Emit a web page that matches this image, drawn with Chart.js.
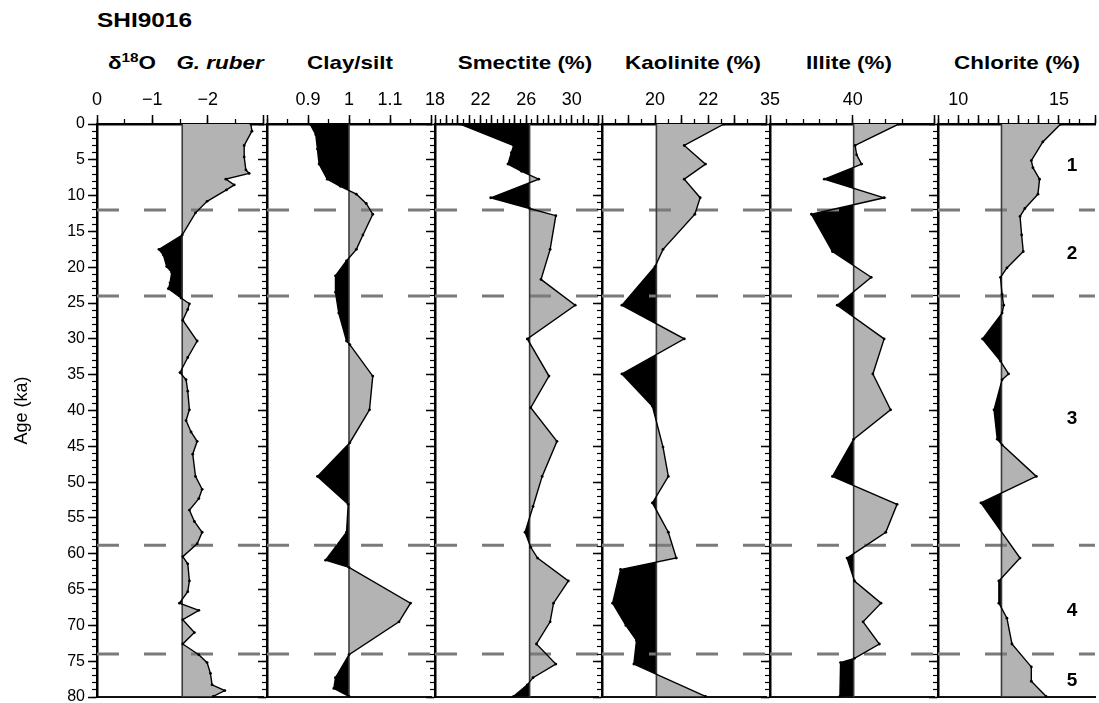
<!DOCTYPE html>
<html>
<head>
<meta charset="utf-8">
<script src="https://cdn.jsdelivr.net/npm/chart.js@4.4.1/dist/chart.umd.min.js"></script>
<style>
  body { margin: 0; background: #fff; }
  #wrap { position: relative; width: 1099px; height: 703px; overflow: hidden; font-family: "Liberation Sans", Arial, sans-serif; color: #000; }
  #wrap canvas { position: absolute; top: 0; }
  .t { position: absolute; top: 52px; font-weight: bold; font-size: 19px; line-height: 22px; white-space: nowrap; transform: translateX(-50%) scaleX(1.18); }
  .t sup { font-size: 13px; vertical-align: 7px; line-height: 0; }
  #core { position: absolute; left: 97px; top: 9px; font-weight: bold; font-size: 20px; line-height: 22px; transform-origin: left center; transform: scaleX(1.22); }
</style>
</head>
<body>
<div id="wrap">
  <div id="core">SHI9016</div>
  <div class="t" style="left:132px">&delta;<sup>18</sup>O</div>
  <div class="t" style="left:220px"><i>G. ruber</i></div>
  <div class="t" style="left:350px">Clay/silt</div>
  <div class="t" style="left:525px">Smectite (%)</div>
  <div class="t" style="left:693px">Kaolinite (%)</div>
  <div class="t" style="left:849px">Illite (%)</div>
  <div class="t" style="left:1017px">Chlorite (%)</div>
  <canvas id="c1"></canvas>
  <canvas id="c2"></canvas>
  <canvas id="c3"></canvas>
  <canvas id="c4"></canvas>
  <canvas id="c5"></canvas>
  <canvas id="c6"></canvas>
</div>
<script>
// ages (ka) and values
const d18oAge = [0, 1.0, 3.0, 4.6, 6.4, 6.9, 7.7, 8.5, 9.2, 10.8, 12.4, 15.5, 17.5, 18.3, 19.9, 20.7, 22.2, 23.0, 24.3, 25.1, 25.9, 27.4, 30.3, 32.6, 34.7, 35.7, 37.3, 39.9, 41.4, 43.0, 44.3, 46.1, 49.2, 51.0, 52.3, 53.9, 55.5, 57.0, 58.6, 60.4, 61.4, 63.8, 65.3, 66.9, 67.9, 69.2, 71.0, 72.6, 74.1, 75.2, 76.7, 78.3, 79.1, 79.9];
const d18oVal = [-2.78, -2.80, -2.66, -2.66, -2.69, -2.75, -2.33, -2.48, -2.34, -1.99, -1.78, -1.54, -1.12, -1.20, -1.26, -1.35, -1.32, -1.29, -1.52, -1.67, -1.64, -1.55, -1.81, -1.64, -1.50, -1.61, -1.64, -1.67, -1.61, -1.70, -1.81, -1.73, -1.78, -1.90, -1.84, -1.67, -1.76, -1.90, -1.81, -1.55, -1.64, -1.67, -1.64, -1.49, -1.84, -1.55, -1.76, -1.55, -1.84, -1.99, -2.05, -2.08, -2.31, -2.10];

const claySiltAge = [0, 1.5, 3.5, 5.6, 7.7, 8.7, 9.8, 11.1, 12.6, 15.5, 17.5, 19.1, 21.2, 23.5, 26.4, 30.3, 30.8, 35.2, 39.9, 44.5, 49.2, 53.1, 57.0, 60.9, 61.9, 66.9, 69.5, 74.1, 77.3, 78.8, 79.9];
const claySiltVal = [0.905, 0.919, 0.923, 0.927, 0.947, 0.979, 1.018, 1.042, 1.058, 1.034, 1.018, 0.994, 0.967, 0.967, 0.975, 0.994, 1.002, 1.058, 1.050, 1.002, 0.923, 0.998, 0.994, 0.943, 1.000, 1.150, 1.122, 1.000, 0.967, 0.963, 1.000];

const smectiteAge = [0, 3.0, 4.0, 5.6, 6.6, 7.7, 10.3, 11.8, 12.8, 17.5, 21.7, 25.3, 30.0, 35.2, 39.6, 44.3, 49.2, 53.4, 57.0, 59.1, 60.6, 63.8, 66.9, 69.5, 72.6, 75.4, 77.3, 78.3, 79.9];
const smectiteVal = [20.2, 24.9, 24.7, 24.4, 25.6, 27.1, 22.9, 26.3, 28.6, 28.1, 27.3, 30.3, 26.1, 28.0, 26.4, 28.7, 27.4, 26.6, 25.9, 26.4, 27.0, 29.7, 28.4, 28.1, 26.9, 28.6, 26.6, 26.1, 24.9];

const kaoliniteAge = [0, 3.0, 5.6, 7.7, 10.3, 12.6, 17.5, 19.9, 25.3, 30.0, 34.9, 39.4, 45.1, 49.2, 52.9, 57.0, 60.6, 62.2, 66.9, 70.0, 72.1, 75.4, 79.9];
const kaoliniteVal = [22.6, 21.1, 21.9, 21.1, 21.7, 21.5, 20.3, 20.0, 18.75, 21.1, 18.75, 19.9, 20.3, 20.5, 19.9, 20.5, 20.8, 18.7, 18.4, 18.9, 19.3, 19.2, 21.9];

const illiteAge = [0, 3.0, 4.3, 5.6, 7.7, 10.3, 12.6, 17.8, 21.4, 25.3, 30.0, 34.9, 39.9, 44.0, 49.2, 53.1, 57.0, 60.6, 63.8, 66.9, 69.5, 72.6, 74.6, 75.2, 79.9];
const illiteVal = [42.77, 40.14, 40.23, 40.53, 38.28, 41.89, 37.5, 38.77, 41.11, 39.06, 41.89, 41.21, 42.28, 40.05, 38.77, 42.67, 41.99, 39.65, 40.1, 41.7, 40.62, 41.6, 40.1, 39.26, 39.22];

const chloriteAge = [0, 2.5, 5.1, 6.1, 7.7, 9.8, 11.8, 12.9, 15.5, 17.8, 20.1, 21.4, 23.8, 25.3, 26.4, 30.0, 33.1, 34.9, 35.7, 39.9, 44.0, 44.8, 49.2, 52.9, 60.6, 63.8, 66.9, 69.0, 72.6, 75.8, 77.8, 79.9];
const chloriteVal = [15.09, 14.2, 13.63, 13.71, 14.04, 13.96, 13.31, 13.07, 13.15, 13.23, 12.42, 12.10, 12.18, 12.26, 12.18, 11.21, 12.10, 12.5, 12.18, 11.78, 11.94, 12.18, 13.88, 11.13, 13.07, 12.02, 12.02, 12.42, 12.67, 13.63, 13.63, 14.36];

// reference (mean) lines
const refValues = [-1.54, 1.0, 26.3, 20.05, 40.05, 12.15];

// top axis ranges and labelled ticks
const axisMin = [-3, 0.8, 18, 18, 35, 9];
const axisMax = [0, 1.2, 32.3, 24.18, 44.9, 16.79];
const majorStep = [1, 0.1, 1, 1, 5, 1];
const minorStep = [0.5, 0.05, 0.5, 0.5, 1, 0.5];
const tickLabels = [[0, -1, -2], [0.9, 1, 1.1], [18, 22, 26, 30], [20, 22], [35, 40], [10, 15]];

// zone boundaries and names
const zoneBounds = [12, 24, 58.8, 74];
const zoneNames = ['1', '2', '3', '4', '5'];
const zoneNameAges = [5.9, 18.1, 41.2, 67.9, 77.8];

const GREY = '#b3b3b3';
const FAMILY = '"Liberation Sans", Arial, sans-serif';

// grey/black fill either side of the mean line, then the dashed zone boundaries
const profileFill = {
  id: 'profileFill',
  beforeDatasetsDraw(chart, args, opts) {
    const pts = chart.getDatasetMeta(0).data;
    const area = chart.chartArea;
    const rx = chart.scales.x.getPixelForValue(opts.ref);
    const ctx = chart.ctx;
    const sides = [[rx, area.right, GREY], [area.left, rx, '#000']];
    sides.forEach(([a, b, color]) => {
      ctx.save();
      ctx.beginPath();
      ctx.rect(a, area.top, b - a, area.bottom - area.top);
      ctx.clip();
      ctx.beginPath();
      ctx.moveTo(rx, pts[0].y);
      pts.forEach(p => ctx.lineTo(p.x, p.y));
      ctx.lineTo(rx, pts[pts.length - 1].y);
      ctx.closePath();
      ctx.fillStyle = color;
      ctx.fill();
      ctx.restore();
    });

    ctx.save();
    ctx.strokeStyle = '#7a7a7a';
    ctx.lineWidth = 3;
    ctx.setLineDash([22, 25]);
    opts.bounds.forEach(a => {
      const y = chart.scales.y.getPixelForValue(a);
      ctx.beginPath();
      ctx.moveTo(area.left, y);
      ctx.lineTo(area.right, y);
      ctx.stroke();
    });
    ctx.restore();
  }
};

const zoneText = {
  id: 'zoneText',
  afterDatasetsDraw(chart) {
    const ctx = chart.ctx;
    const y = chart.scales.y;
    ctx.save();
    ctx.font = 'bold 19px ' + FAMILY;
    ctx.fillStyle = '#000';
    ctx.textAlign = 'center';
    ctx.textBaseline = 'middle';
    zoneNames.forEach((t, i) => {
      ctx.fillText(t, chart.chartArea.right - 23, y.getPixelForValue(zoneNameAges[i]));
    });
    ctx.restore();
  }
};

function fmt(v) {
  const r = Math.round(v * 1000) / 1000;
  return r < 0 ? '\u2212' + Math.abs(r) : String(r);
}

const panels = [
  { id: 'c1', left: 97, right: 267, margin: 97, age: d18oAge, val: d18oVal, reverse: true },
  { id: 'c2', left: 267, right: 435, margin: 24, age: claySiltAge, val: claySiltVal },
  { id: 'c3', left: 435, right: 602, margin: 24, age: smectiteAge, val: smectiteVal },
  { id: 'c4', left: 602, right: 770, margin: 24, age: kaoliniteAge, val: kaoliniteVal },
  { id: 'c5', left: 770, right: 938, margin: 24, age: illiteAge, val: illiteVal },
  { id: 'c6', left: 938, right: 1099, margin: 24, age: chloriteAge, val: chloriteVal }
];

// canvases run past the 703px frame so the label padding never squeezes the plot
const CANVAS_H = 717;
const BOTTOM_GAP = CANVAS_H - 697;

panels.forEach((p, i) => {
  const canvas = document.getElementById(p.id);
  const w = p.right - p.left + p.margin;
  canvas.width = w;
  canvas.height = CANVAS_H;
  canvas.style.left = (p.left - p.margin) + 'px';
  canvas.style.width = w + 'px';
  canvas.style.height = CANVAS_H + 'px';

  const min = axisMin[i], max = axisMax[i], ref = refValues[i];
  const first = i === 0;
  const datasets = [
    {
      data: p.age.map((a, k) => ({ x: p.val[k], y: a })),
      borderColor: '#000', borderWidth: 1.4,
      pointRadius: 1.4, pointBackgroundColor: '#000', pointBorderWidth: 0,
      order: 0
    },
    {
      data: [{ x: ref, y: 0 }, { x: ref, y: 80 }],
      borderColor: '#3c3c3c', borderWidth: 1.6, pointRadius: 0, order: 1
    }
  ];

  new Chart(canvas, {
    type: 'line',
    data: { datasets },
    options: {
      responsive: false,
      animation: false,
      indexAxis: 'y',
      events: [],
      layout: { padding: 0, autoPadding: false },
      plugins: {
        legend: { display: false },
        tooltip: { enabled: false },
        profileFill: { ref, bounds: zoneBounds }
      },
      scales: {
        x: {
          type: 'linear', position: 'top', weight: 1, min, max, reverse: !!p.reverse,
          ticks: {
            stepSize: majorStep[i], autoSkip: false, maxRotation: 0, padding: 4,
            font: { family: FAMILY, size: 18 }, color: '#000',
            callback: v => tickLabels[i].some(l => Math.abs(l - v) < 1e-6) ? fmt(v) : ''
          },
          grid: { drawOnChartArea: false, tickLength: 9, tickWidth: 1.5, tickColor: '#000' },
          border: { width: 2.5, color: '#000' },
          afterFit: s => { s.height = 124; }
        },
        xMinor: {
          type: 'linear', position: 'top', weight: 0, min, max, reverse: !!p.reverse,
          ticks: { stepSize: minorStep[i], display: false, autoSkip: false },
          grid: { drawOnChartArea: false, tickLength: 5, tickWidth: 1.3, tickColor: '#000' },
          border: { display: false },
          afterFit: s => { s.height = 0; }
        },
        xBottom: {
          type: 'linear', position: 'bottom', min, max, reverse: !!p.reverse,
          ticks: { display: false },
          grid: { display: false },
          border: { width: 2, color: '#111' },
          afterFit: s => { s.height = BOTTOM_GAP; }
        },
        y: {
          type: 'linear', position: 'left', weight: 1, min: 0, max: 80, reverse: true,
          ticks: { stepSize: 5, autoSkip: false, display: first, padding: 3, font: { family: FAMILY, size: 16 }, color: '#000' },
          grid: { drawOnChartArea: false, tickLength: 9, tickWidth: 1.5, tickColor: '#000' },
          border: { width: 2.5, color: '#000' },
          title: { display: first, text: 'Age (ka)', font: { family: FAMILY, size: 18 }, color: '#000', padding: { top: 11, bottom: 0 } },
          afterFit: s => { s.width = p.margin; }
        },
        yMinor: {
          type: 'linear', position: 'left', weight: 0, min: 0, max: 80, reverse: true,
          ticks: { stepSize: 1, display: false, autoSkip: false },
          grid: { drawOnChartArea: false, tickLength: 5, tickWidth: 1.2, tickColor: '#000' },
          border: { display: false },
          afterFit: s => { s.width = 0; }
        }
      }
    },
    plugins: i === 5 ? [profileFill, zoneText] : [profileFill]
  });
});
</script>
</body>
</html>
